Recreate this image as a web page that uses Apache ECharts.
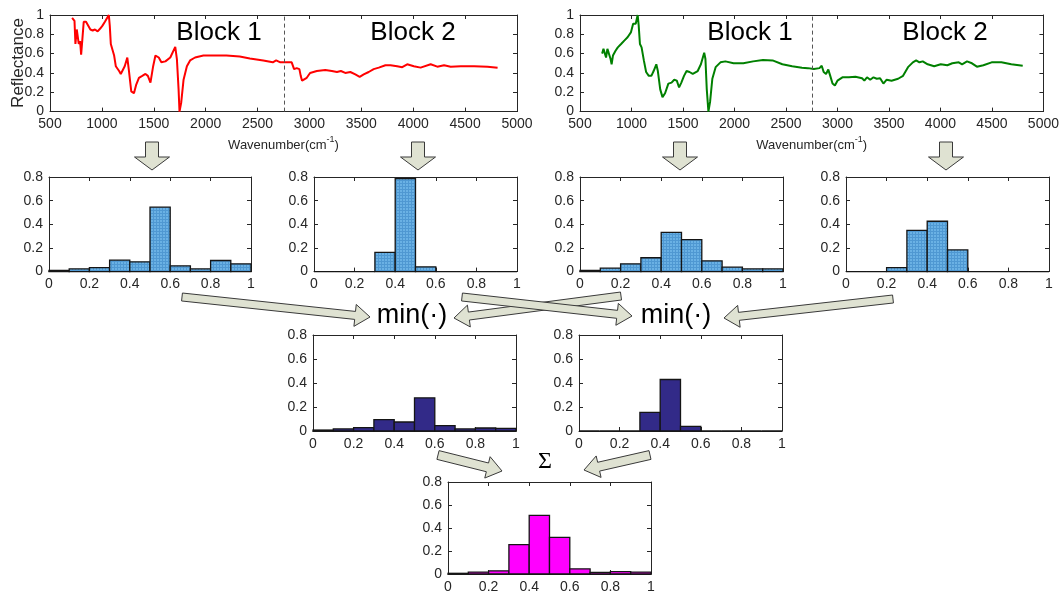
<!DOCTYPE html>
<html><head><meta charset="utf-8">
<script src="https://cdn.jsdelivr.net/npm/echarts@6/dist/echarts.min.js"></script>
<style>html,body{margin:0;padding:0;background:#fff;}#c{width:1062px;height:594px;}</style>
</head><body><div id="c"></div>
<script>
// ---------------- DATA ----------------
const blockDivider = 2760;
const blockLabels = ['Block 1', 'Block 2'];
const redSpectrum = [[713,0.97],[736,0.94],[745,0.70],[758,0.85],[767,0.87],[777,0.70],[790,0.73],[800,0.59],[812,0.75],[825,0.93],[847,0.93],[863,0.91],[889,0.85],[911,0.84],[933,0.85],[959,0.83],[984,0.86],[1006,0.89],[1029,0.93],[1048,0.92],[1067,1.0],[1076,0.89],[1086,0.70],[1102,0.68],[1118,0.58],[1134,0.47],[1150,0.45],[1166,0.42],[1182,0.39],[1197,0.40],[1220,0.47],[1245,0.56],[1261,0.42],[1283,0.21],[1309,0.19],[1331,0.28],[1357,0.35],[1389,0.37],[1420,0.39],[1443,0.37],[1468,0.30],[1494,0.47],[1516,0.58],[1548,0.56],[1573,0.51],[1612,0.52],[1659,0.56],[1707,0.67],[1723,0.54],[1739,0.23],[1748,0.0],[1764,0.09],[1787,0.33],[1819,0.47],[1850,0.53],[1898,0.56],[1978,0.58],[2073,0.58],[2200,0.58],[2328,0.57],[2426,0.55],[2555,0.53],[2647,0.51],[2679,0.53],[2720,0.51],[2758,0.51],[2829,0.51],[2852,0.44],[2877,0.45],[2903,0.44],[2916,0.37],[2929,0.32],[2948,0.31],[2974,0.35],[3006,0.40],[3071,0.42],[3152,0.43],[3216,0.42],[3265,0.41],[3303,0.42],[3345,0.40],[3394,0.41],[3442,0.385],[3484,0.36],[3523,0.385],[3571,0.41],[3619,0.44],[3668,0.455],[3732,0.48],[3781,0.48],[3845,0.47],[3894,0.46],[3942,0.49],[4006,0.47],[4071,0.455],[4168,0.49],[4232,0.465],[4297,0.48],[4361,0.465],[4458,0.47],[4587,0.47],[4716,0.465],[4813,0.455]];
const greenSpectrum = [[715,0.60],[728,0.65],[740,0.655],[753,0.56],[766,0.65],[778,0.61],[788,0.63],[797,0.545],[807,0.49],[820,0.58],[845,0.63],[867,0.665],[899,0.70],[930,0.735],[962,0.77],[994,0.82],[1016,0.91],[1041,0.91],[1060,1.0],[1070,0.89],[1082,0.70],[1098,0.665],[1120,0.53],[1142,0.41],[1168,0.37],[1193,0.37],[1215,0.42],[1241,0.49],[1256,0.42],[1279,0.23],[1301,0.15],[1326,0.19],[1358,0.29],[1389,0.30],[1415,0.33],[1440,0.32],[1462,0.25],[1484,0.30],[1510,0.37],[1535,0.42],[1563,0.41],[1595,0.39],[1643,0.42],[1674,0.49],[1706,0.61],[1718,0.545],[1731,0.23],[1747,0.0],[1763,0.10],[1785,0.34],[1817,0.46],[1864,0.51],[1912,0.52],[1991,0.50],[2086,0.50],[2181,0.52],[2276,0.535],[2370,0.53],[2465,0.49],[2560,0.47],[2655,0.455],[2713,0.45],[2771,0.44],[2825,0.45],[2847,0.475],[2866,0.41],[2889,0.39],[2911,0.435],[2930,0.37],[2952,0.29],[2975,0.27],[3000,0.32],[3048,0.355],[3111,0.355],[3175,0.36],[3239,0.345],[3261,0.32],[3287,0.355],[3318,0.33],[3350,0.355],[3382,0.34],[3414,0.345],[3446,0.29],[3478,0.33],[3525,0.32],[3589,0.34],[3637,0.37],[3685,0.46],[3732,0.51],[3764,0.53],[3796,0.51],[3828,0.52],[3876,0.49],[3939,0.47],[4003,0.49],[4067,0.48],[4115,0.50],[4178,0.51],[4210,0.49],[4258,0.52],[4306,0.50],[4354,0.465],[4417,0.48],[4497,0.51],[4592,0.51],[4688,0.49],[4799,0.475]];
const binEdges = [0,0.1,0.2,0.3,0.4,0.5,0.6,0.7,0.8,0.9,1.0];
const histRedBlock1   = [0.011,0.023,0.034,0.097,0.083,0.545,0.049,0.023,0.094,0.066];
const histRedBlock2   = [0,0,0,0.163,0.786,0.040,0,0,0,0];
const histGreenBlock1 = [0.011,0.029,0.066,0.117,0.331,0.271,0.091,0.037,0.023,0.023];
const histGreenBlock2 = [0,0,0.034,0.349,0.426,0.183,0,0,0,0];
const histMinBlock1   = [0.008,0.017,0.028,0.095,0.075,0.276,0.045,0.017,0.025,0.022];
const histMinBlock2   = [0,0,0,0.156,0.429,0.039,0,0,0,0];
const histSum         = [0.006,0.017,0.028,0.255,0.510,0.318,0.045,0.014,0.020,0.017];
const yAxisName = 'Reflectance';
const opLabels = ['min(\u00b7)', '\u03a3'];

// ---------------- LAYOUT / STYLE ----------------
const FONT = '"Liberation Sans", Arial, Helvetica, sans-serif';
const AX = '#262626';
function makePattern(){
  const c = document.createElement('canvas'); c.width = 3; c.height = 3;
  const g = c.getContext('2d');
  g.fillStyle = '#6ab1e4'; g.fillRect(0,0,3,3);
  g.fillStyle = '#4f98d2'; g.fillRect(0,0,3,1); g.fillRect(0,0,1,3);
  return c;
}
const bluePattern = {image: makePattern(), repeat: 'repeat'};
const fmt = v => String(Math.round(v * 100) / 100);

const panels = [
  {type:'spec', left:50,  top:15,  width:467, height:96.6, data:redSpectrum,   color:'#ff0000'},
  {type:'spec', left:580, top:15,  width:469, height:96.6, data:greenSpectrum, color:'#008000'},
  {type:'hist', left:49,  top:177, width:202, height:94.6, data:histRedBlock1,   fill:bluePattern},
  {type:'hist', left:314, top:177, width:203, height:94.6, data:histRedBlock2,   fill:bluePattern},
  {type:'hist', left:580, top:177, width:203, height:94.6, data:histGreenBlock1, fill:bluePattern},
  {type:'hist', left:846, top:177, width:203, height:94.6, data:histGreenBlock2, fill:bluePattern},
  {type:'hist', left:313, top:335, width:203, height:96,   data:histMinBlock1, fill:'#322a88'},
  {type:'hist', left:579, top:335, width:203, height:96,   data:histMinBlock2, fill:'#322a88'},
  {type:'hist', left:448, top:482, width:203, height:94,   data:histSum,       fill:'#ff00ff'}
];

const grid = [], xAxis = [], yAxis = [], series = [];
panels.forEach((p, i) => {
  grid.push({left:p.left, top:p.top, width:p.width, height:p.height, containLabel:false});
  const spec = p.type === 'spec';
  const xr = spec ? {min:500, max:5000, interval:500} : {min:0, max:1, interval:0.2};
  const yr = spec ? {min:0, max:1, interval:0.2} : {min:0, max:0.8, interval:0.2};
  const base = (pos, showLabel, gi, r) => Object.assign({
    type:'value', gridIndex:gi, position:pos,
    axisLine:{show:true, onZero:false, lineStyle:{color:AX, width:1}},
    axisTick:{show:true, inside:true, length:4, lineStyle:{color:AX, width:1}},
    axisLabel:{show:showLabel, color:AX, fontSize:14, fontFamily:FONT, margin:6, showMinLabel:true, showMaxLabel:true, formatter:fmt},
    splitLine:{show:false}
  }, r);
  const xb = base('bottom', true, i, xr);
  if (spec) {
    xb.name = '{a|Wavenumber(cm}{s|-1}{a|)}';
    xb.nameLocation = 'middle';
    xb.nameGap = 23;
    xb.nameTextStyle = {rich:{
      a:{fontSize:13, fontFamily:FONT, color:AX, lineHeight:17, verticalAlign:'bottom'},
      s:{fontSize:9, fontFamily:FONT, color:AX, lineHeight:17, verticalAlign:'top'}
    }};
  }
  xAxis.push(xb);
  xAxis.push(base('top', false, i, xr));
  yAxis.push(base('left', true, i, yr));
  yAxis.push(base('right', false, i, yr));
  const xi = 2*i, yi = 2*i;
  if (spec) {
    series.push({
      type:'line', xAxisIndex:xi, yAxisIndex:yi, data:p.data, showSymbol:false, symbol:'none',
      lineStyle:{color:p.color, width:2}, z:3, animation:false,
      markLine:{silent:true, symbol:'none', animation:false, label:{show:false},
        lineStyle:{type:[4,3], color:'#555', width:1}, data:[{xAxis:blockDivider}]}
    });
  } else {
    const rows = p.data.map((v, k) => [binEdges[k], binEdges[k+1], v]);
    const fill = p.fill;
    series.push({
      type:'custom', xAxisIndex:xi, yAxisIndex:yi, data:rows, animation:false, z:3,
      encode:{x:[0,1], y:2},
      renderItem:(params, api) => {
        const a = api.coord([api.value(0), api.value(2)]);
        const b = api.coord([api.value(1), 0]);
        return {type:'rect', shape:{x:a[0], y:a[1], width:b[0]-a[0], height:b[1]-a[1]},
          style:{fill:fill, stroke:'#151515', lineWidth:1.3}};
      }
    });
  }
});

// decorative arrows
function arrowPts(t, h, sw, hw, hl){
  const dx = h[0]-t[0], dy = h[1]-t[1], L = Math.hypot(dx, dy);
  const ux = dx/L, uy = dy/L, nx = -uy, ny = ux;
  const bx = h[0]-ux*hl, by = h[1]-uy*hl;
  return [[t[0]+nx*sw/2, t[1]+ny*sw/2],[bx+nx*sw/2, by+ny*sw/2],[bx+nx*hw/2, by+ny*hw/2],
          [h[0],h[1]],[bx-nx*hw/2, by-ny*hw/2],[bx-nx*sw/2, by-ny*sw/2],[t[0]-nx*sw/2, t[1]-ny*sw/2]];
}
const arrows = [
  [[152,142],[152,170],13,35,13],[[418,142],[418,170],13,35,13],
  [[680,142],[680,170],13,35,13],[[946,142],[946,170],13,35,13],
  [[182,297],[370,317],8,22,15],[[893,299],[724,318],8,22,15],
  [[621,296],[454,318],8,22,15],[[462,297],[632,316],8,22,15],
  [[438,455],[502,471],9,22,15],[[650,455],[584,470],9,22,15]
];
const graphic = arrows.map(a => ({type:'polygon', z:10, shape:{points:arrowPts(a[0],a[1],a[2],a[3],a[4])},
  style:{fill:'#dfe2d2', stroke:'#3a3a3a', lineWidth:1}}));
const txt = (x, y, t, size, fam, rot, col) => ({type:'text', x:x, y:y, z:20, rotation:rot||0,
  style:{text:t, fontSize:size, fontFamily:fam||FONT, fill:col||'#000', align:'center', verticalAlign:'middle'}});
graphic.push(txt(219, 33, blockLabels[0], 26));
graphic.push(txt(413, 33, blockLabels[1], 26));
graphic.push(txt(750, 33, blockLabels[0], 26));
graphic.push(txt(945, 33, blockLabels[1], 26));
graphic.push(txt(412, 316, opLabels[0], 27));
graphic.push(txt(676, 316, opLabels[0], 27));
graphic.push(txt(545, 462, opLabels[1], 24, '"Liberation Serif", "Times New Roman", serif'));
graphic.push(txt(18, 63, yAxisName, 17, FONT, Math.PI/2, AX));

const chart = echarts.init(document.getElementById('c'), null, {renderer:'canvas'});
chart.setOption({animation:false, backgroundColor:'#fff', grid, xAxis, yAxis, series, graphic});
</script></body></html>
